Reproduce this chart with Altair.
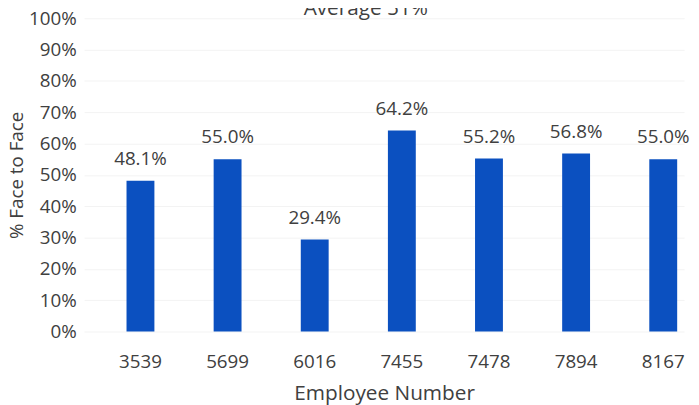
import altair as alt
import pandas as pd

employees = ["3539", "5699", "6016", "7455", "7478", "7894", "8167"]
face_to_face = [48.1, 55.0, 29.4, 64.2, 55.2, 56.8, 55.0]
y_ticks = [0, 10, 20, 30, 40, 50, 60, 70, 80, 90, 100]
title_text = "Average 51%"

df = pd.DataFrame({"emp": employees, "pct": [v / 100 for v in face_to_face]})
df["label"] = [f"{v:.1f}%" for v in face_to_face]

FONT = "Open Sans"
TXT = "#404040"

x = alt.X("emp:N", sort=employees, title="Employee Number",
          scale=alt.Scale(paddingInner=0.68, paddingOuter=0.283, align=0.86),
          axis=alt.Axis(labelAngle=0, labelFontSize=19, labelColor=TXT, labelFont=FONT,
                        titleFontSize=21, titleColor=TXT, titleFont=FONT, titleFontWeight="normal",
                        ticks=False, domain=False, labelPadding=21, titlePadding=12))
y = alt.Y("pct:Q", title="% Face to Face",
          scale=alt.Scale(domain=[0, 1], nice=False),
          axis=alt.Axis(format=".0%", values=[t / 100 for t in y_ticks], labelOverlap=False,
                        labelFontSize=19, labelColor=TXT, labelFont=FONT,
                        titleFontSize=19, titleColor=TXT, titleFont=FONT, titleFontWeight="normal",
                        titleX=-68, titleBaseline="middle",
                        ticks=False, domain=False, labelPadding=8,
                        grid=True, gridColor="#f3f3f3"))

base = alt.Chart(df)
bars = base.mark_bar(color="#0B50C0").encode(x=x, y=y)
labels = base.mark_text(baseline="middle", dy=-22, fontSize=19, font=FONT, color=TXT).encode(
    x=x, y=y, text="label:N")
title = alt.Chart(pd.DataFrame({"t": [title_text]})).mark_text(
    fontSize=21, font=FONT, color=TXT, baseline="alphabetic", align="center").encode(
    x=alt.value(285), y=alt.value(-3), text="t:N")

chart = alt.layer(bars, labels, title).properties(
    width=607, height=317,
    autosize=alt.AutoSizeParams(type="none"),
    padding={"left": 77, "top": 8, "right": 7, "bottom": 72},
).configure_view(stroke=None)

chart.save("out.html", embed_options={"renderer": "svg", "actions": False})
